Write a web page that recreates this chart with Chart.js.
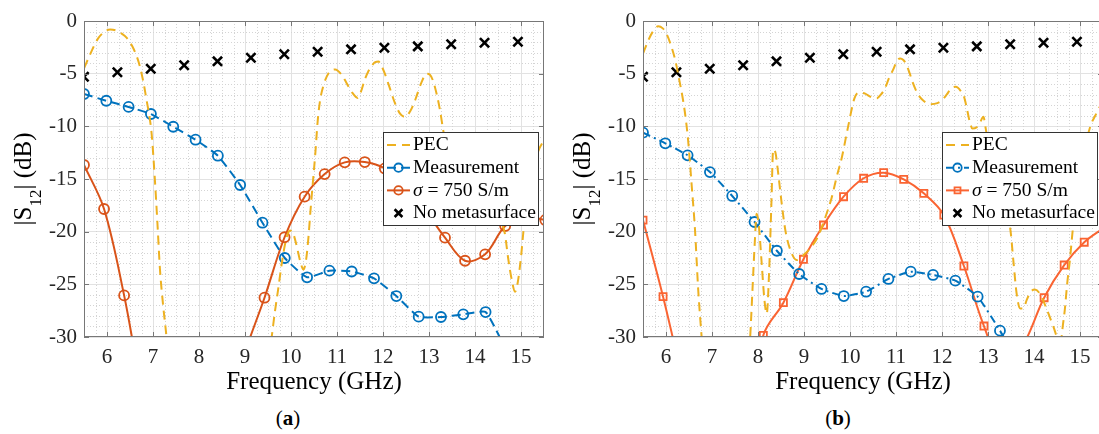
<!DOCTYPE html>
<html>
<head>
<meta charset="utf-8">
<script src="https://cdn.jsdelivr.net/npm/chart.js@4.4.1/dist/chart.umd.min.js"></script>
<style>
  body { margin: 0; width: 1099px; height: 434px; overflow: hidden; background: #fff; position: relative; font-family: 'Liberation Serif', serif; }
  .panel { position: absolute; top: 0; width: 560px; height: 400px; }
  #panelA { left: 0; }
  #panelB { left: 559px; }
  .cap { position: absolute; top: 406px; width: 60px; text-align: center; font-size: 21px; line-height: 24px; color: #000; }
</style>
</head>
<body>
<div class="panel" id="panelA"><canvas id="chartA"></canvas></div>
<div class="panel" id="panelB"><canvas id="chartB"></canvas></div>
<div class="cap" style="left:258px">(<b>a</b>)</div>
<div class="cap" style="left:808px">(<b>b</b>)</div>
<script>
// axis ticks
const xTicks = [6, 7, 8, 9, 10, 11, 12, 13, 14, 15];
const yTicks = [-30, -25, -20, -15, -10, -5, 0];

// frequencies (GHz) of the marked series
const measFreq = [5.5, 5.985, 6.47, 6.955, 7.44, 7.925, 8.41, 8.895, 9.38, 9.865, 10.35, 10.835, 11.32, 11.805, 12.29, 12.775, 13.26, 13.745, 14.23, 14.715];
const sigmaFreq = [5.5, 5.936, 6.372, 6.808, 7.244, 7.68, 8.116, 8.552, 8.988, 9.424, 9.86, 10.296, 10.732, 11.168, 11.604, 12.04, 12.476, 12.912, 13.348, 13.784, 14.22, 14.656, 15.092, 15.528];
const noMetaFreq = [5.5, 6.226, 6.951, 7.677, 8.402, 9.128, 9.854, 10.579, 11.305, 12.03, 12.756, 13.482, 14.207, 14.933];

// |S12| (dB)
const measA = [-6.93, -7.57, -8.16, -8.83, -10.04, -11.27, -12.79, -15.57, -19.15, -22.5, -24.33, -23.7, -23.78, -24.43, -26.11, -28.07, -28.1, -27.85, -27.63, -31.6];
const measB = [-10.6, -11.61, -12.75, -14.34, -16.61, -19.08, -21.81, -24.02, -25.44, -26.11, -25.7, -24.49, -23.8, -24.11, -24.65, -26.17, -29.4, -33];
const sigmaA = [-13.67, -17.85, -26.05, -36, -42, -45, -43, -38, -31.6, -26.27, -20.53, -16.68, -14.53, -13.42, -13.39, -14.0, -15.5, -17.9, -20.57, -22.76, -22.15, -19.46, -18.6, -18.9];
const sigmaB = [-18.9, -26.17, -34, -40, -43, -40, -29.84, -26.74, -22.62, -19.37, -16.68, -14.93, -14.4, -15.03, -16.36, -18.42, -23.26, -28.96, -33, -30.6, -26.27, -23.17, -21.0, -19.6];
const noMeta = [-5.29, -4.87, -4.53, -4.2, -3.83, -3.49, -3.16, -2.92, -2.69, -2.54, -2.41, -2.21, -2.06, -1.97];

// PEC simulation, [GHz, dB]
const pecA = [[5.5,-4.5],[5.65,-3.0],[5.8,-1.7],[5.95,-1.0],[6.07,-0.8],[6.2,-0.9],[6.32,-1.2],[6.43,-1.6],[6.55,-2.4],[6.65,-3.4],[6.72,-4.4],[6.8,-6.0],[6.86,-7.5],[6.92,-9.0],[6.97,-10.7],[7.04,-15.0],[7.1,-19.5],[7.15,-23.5],[7.22,-27],[7.3,-30.3],[7.4,-36],[7.7,-44],[8.5,-48],[9.2,-42],[9.45,-34],[9.58,-30],[9.65,-27.6],[9.72,-25.5],[9.8,-23.0],[9.87,-21.2],[9.93,-20.2],[9.98,-19.9],[10.05,-20.2],[10.12,-21.3],[10.2,-22.8],[10.27,-23.6],[10.33,-22.6],[10.38,-20.5],[10.42,-18.2],[10.47,-15.6],[10.53,-12.5],[10.58,-9.5],[10.63,-7.6],[10.7,-6.2],[10.81,-5.0],[10.96,-4.6],[11.1,-5.1],[11.21,-5.9],[11.33,-6.8],[11.45,-7.3],[11.53,-6.6],[11.6,-5.6],[11.68,-4.8],[11.75,-4.3],[11.83,-3.9],[11.9,-3.85],[11.97,-4.3],[12.04,-5.0],[12.15,-6.4],[12.26,-7.8],[12.37,-8.8],[12.48,-9.1],[12.6,-8.5],[12.7,-7.5],[12.83,-5.9],[12.95,-5.0],[13.02,-5.1],[13.09,-5.7],[13.17,-7.0],[13.24,-8.5],[13.31,-10.4],[13.4,-12.5],[13.55,-14.8],[13.8,-16.8],[14.1,-17.8],[14.4,-18.4],[14.55,-18.9],[14.65,-20.2],[14.72,-22.5],[14.8,-24.6],[14.87,-25.7],[14.93,-24.8],[15.0,-22.4],[15.07,-19.2],[15.15,-16.5],[15.25,-14.2],[15.38,-12.3],[15.5,-11.3]];
const pecB = [[5.5,-3.1],[5.6,-2.0],[5.7,-1.1],[5.83,-0.5],[5.93,-0.7],[6.01,-1.2],[6.1,-2.2],[6.2,-3.7],[6.28,-5.4],[6.37,-7.5],[6.43,-9.3],[6.48,-11.3],[6.56,-15.7],[6.63,-19.8],[6.7,-25.5],[6.78,-30.3],[6.9,-37],[7.3,-45],[7.65,-40],[7.78,-33],[7.83,-30],[7.88,-25.5],[7.93,-21],[7.97,-18.3],[8.02,-19.5],[8.08,-23],[8.14,-26.5],[8.19,-27.8],[8.24,-24],[8.29,-17.5],[8.33,-12.2],[8.38,-12.5],[8.44,-14.5],[8.52,-17.5],[8.6,-20],[8.7,-21.7],[8.84,-22.7],[9.02,-22.1],[9.17,-21.4],[9.31,-20.4],[9.45,-18.8],[9.6,-16.8],[9.71,-14.8],[9.82,-13.0],[9.96,-10.0],[10.1,-7.3],[10.2,-6.8],[10.33,-6.9],[10.45,-7.2],[10.58,-7.35],[10.67,-7.0],[10.76,-6.4],[10.85,-5.4],[10.94,-4.6],[11.02,-3.8],[11.09,-3.55],[11.16,-3.7],[11.22,-4.1],[11.3,-5.0],[11.36,-5.8],[11.47,-6.9],[11.58,-7.5],[11.75,-7.9],[11.9,-7.8],[11.98,-7.6],[12.1,-7.0],[12.2,-6.4],[12.3,-6.25],[12.4,-6.6],[12.48,-7.2],[12.55,-8.5],[12.6,-9.5],[12.66,-10.2],[12.75,-10.1],[12.83,-9.6],[12.9,-9.1],[12.95,-10.2],[13.05,-12.8],[13.2,-16],[13.35,-18.4],[13.48,-19.6],[13.55,-22.7],[13.62,-25.8],[13.7,-27.3],[13.77,-27.3],[13.84,-26.5],[13.93,-25.7],[14.02,-25.5],[14.13,-25.9],[14.28,-27.4],[14.42,-29.0],[14.53,-30.3],[14.58,-30.4],[14.63,-28.8],[14.67,-27.4],[14.72,-25],[14.78,-22.7],[14.85,-19.5],[15.0,-14.5],[15.15,-11.2],[15.25,-9.7],[15.33,-9.0],[15.45,-8.0],[15.55,-7.5]];

const FONT = "'Liberation Serif', 'Times New Roman', serif";

function xy(freq, vals) {
  return vals.map((v, i) => ({ x: freq[i], y: v }));
}
function pairs(list) {
  return list.map((p) => ({ x: p[0], y: p[1] }));
}

function marker(ctx, style, x, y, r) {
  ctx.beginPath();
  if (style === 'circle') {
    ctx.arc(x, y, r, 0, Math.PI * 2);
  } else if (style === 'rect') {
    const s = r * Math.SQRT1_2;
    ctx.rect(x - s, y - s, 2 * s, 2 * s);
  } else if (style === 'crossRot') {
    const s = r * Math.SQRT1_2;
    ctx.moveTo(x - s, y - s); ctx.lineTo(x + s, y + s);
    ctx.moveTo(x + s, y - s); ctx.lineTo(x - s, y + s);
  }
  ctx.stroke();
}

// dotted minor grid under the curves
const minorGrid = {
  id: 'minorGrid',
  beforeDatasetsDraw(chart) {
    const { ctx, chartArea: a, scales: { x, y } } = chart;
    ctx.save();
    ctx.strokeStyle = '#d4d4d4';
    ctx.lineWidth = 1;
    ctx.setLineDash([1, 2]);
    ctx.beginPath();
    for (let v = 5.75; v < 15.5; v += 0.25) {
      if (Math.abs(v - Math.round(v)) < 1e-6) continue;
      const px = Math.round(x.getPixelForValue(v)) + 0.5;
      ctx.moveTo(px, a.top); ctx.lineTo(px, a.bottom);
    }
    for (let v = -29; v < 0; v += 1) {
      if (v % 5 === 0) continue;
      const py = Math.round(y.getPixelForValue(v)) + 0.5;
      ctx.moveTo(a.left, py); ctx.lineTo(a.right, py);
    }
    ctx.stroke();
    ctx.restore();
  },
};

// box, inward ticks, legend and axis titles
const decor = {
  id: 'decor',
  afterDatasetsDraw(chart, args, opts) {
    const { ctx, chartArea: a, scales: { x, y } } = chart;
    ctx.save();
    ctx.strokeStyle = '#777';
    ctx.lineWidth = 1;
    ctx.strokeRect(a.left + 0.5, a.top + 0.5, a.right - a.left - 1, a.bottom - a.top - 1);
    ctx.beginPath();
    xTicks.forEach((v) => {
      const px = Math.round(x.getPixelForValue(v)) + 0.5;
      ctx.moveTo(px, a.bottom); ctx.lineTo(px, a.bottom - 5);
      ctx.moveTo(px, a.top); ctx.lineTo(px, a.top + 5);
    });
    yTicks.forEach((v) => {
      const py = Math.round(y.getPixelForValue(v)) + 0.5;
      ctx.moveTo(a.left, py); ctx.lineTo(a.left + 5, py);
      ctx.moveTo(a.right, py); ctx.lineTo(a.right - 5, py);
    });
    ctx.stroke();

    // legend
    const lx = 383.5, ly = 132.5, lw = 155, lh = 93;
    ctx.fillStyle = '#fff';
    ctx.fillRect(lx, ly, lw, lh);
    ctx.strokeStyle = '#333';
    ctx.strokeRect(lx, ly, lw, lh);
    ctx.textBaseline = 'middle';
    chart.data.datasets.forEach((ds, i) => {
      const ry = 145 + i * 22.7;
      ctx.strokeStyle = ds.borderColor;
      if (ds.showLine !== false) {
        ctx.lineWidth = ds.borderWidth;
        ctx.setLineDash(ds.borderDash || []);
        ctx.beginPath(); ctx.moveTo(387, ry); ctx.lineTo(410, ry); ctx.stroke();
      }
      ctx.setLineDash([]);
      if (ds.pointRadius > 0) {
        ctx.lineWidth = ds.pointBorderWidth;
        marker(ctx, ds.pointStyle, 398.5, ry, ds.pointStyle === 'crossRot' ? 5.5 : 4.2);
      }
      ctx.fillStyle = '#000';
      let tx = 413;
      let text = ds.label;
      if (text.startsWith('σ')) {
        ctx.font = `italic 19.5px ${FONT}`;
        ctx.fillText('σ', tx, ry);
        tx += ctx.measureText('σ').width;
        text = text.slice(1);
      }
      ctx.font = `19.5px ${FONT}`;
      ctx.fillText(text, tx, ry);
    });
    ctx.restore();
  },
  afterDraw(chart, args, opts) {
    const { ctx, chartArea: a } = chart;
    ctx.save();
    ctx.fillStyle = '#000';
    // x title
    ctx.font = `25px ${FONT}`;
    ctx.textAlign = 'center';
    ctx.textBaseline = 'alphabetic';
    ctx.fillText('Frequency (GHz)', opts.xTitleX, 389);
    // y title with subscript
    ctx.translate(31, (a.top + a.bottom) / 2);
    ctx.rotate(-Math.PI / 2);
    ctx.textAlign = 'left';
    const big = `25px ${FONT}`, small = `17px ${FONT}`;
    ctx.font = big; const w1 = ctx.measureText('|S').width; const w3 = ctx.measureText('| (dB)').width;
    ctx.font = small; const w2 = ctx.measureText('12').width;
    let px = -(w1 + w2 + w3) / 2;
    ctx.font = big; ctx.fillText('|S', px, 0); px += w1;
    ctx.font = small; ctx.fillText('12', px, 10); px += w2;
    ctx.font = big; ctx.fillText('| (dB)', px, 0);
    ctx.restore();
  },
};

function makeChart(id, datasets, xTitleX) {
  return new Chart(document.getElementById(id), {
    type: 'line',
    data: { datasets },
    options: {
      responsive: true,
      maintainAspectRatio: false,
      animation: false,
      events: [],
      layout: { padding: { top: 21, right: 16, left: 0, bottom: 0 } },
      plugins: { legend: { display: false }, tooltip: { enabled: false }, decor: { xTitleX } },
      scales: {
        x: {
          type: 'linear', min: 5.5, max: 15.5,
          afterBuildTicks: (s) => { s.ticks = xTicks.map((v) => ({ value: v })); },
          afterFit: (s) => { s.height = 63; },
          grid: { color: '#e2e2e2', drawTicks: false },
          border: { display: false },
          ticks: { font: { family: FONT, size: 21 }, color: '#262626', padding: 8, maxRotation: 0, autoSkip: false, callback: (v) => String(v) },
        },
        y: {
          min: -30, max: 0,
          afterBuildTicks: (s) => { s.ticks = yTicks.map((v) => ({ value: v })); },
          afterFit: (s) => { s.width = 84; },
          grid: { color: '#e2e2e2', drawTicks: false },
          border: { display: false },
          ticks: { font: { family: FONT, size: 21 }, color: '#262626', padding: 7, callback: (v) => String(v) },
        },
      },
    },
    plugins: [minorGrid, decor],
  });
}

function pecSet(data) {
  return { label: 'PEC', data, borderColor: '#EDB120', borderWidth: 2, borderDash: [9, 6], pointRadius: 0, cubicInterpolationMode: 'monotone', fill: false };
}
function measSet(data, dash) {
  return { label: 'Measurement', data, borderColor: '#0072BD', borderWidth: 2, borderDash: dash, pointStyle: 'circle', pointRadius: 5, pointBorderWidth: 1.8, pointBackgroundColor: 'rgba(0,0,0,0)', tension: 0.15, fill: false };
}
function sigmaSet(data, color, style) {
  return { label: 'σ = 750 S/m', data, borderColor: color, borderWidth: 2, pointStyle: style, pointRadius: 5, pointBorderWidth: 1.8, pointBackgroundColor: 'rgba(0,0,0,0)', tension: 0.35, fill: false };
}
function noMetaSet() {
  return { label: 'No metasurface', data: xy(noMetaFreq, noMeta), showLine: false, borderColor: '#000', pointStyle: 'crossRot', pointRadius: 6.5, pointBorderWidth: 2.6, fill: false };
}

function drawAll() {
  makeChart('chartA', [
    pecSet(pairs(pecA)),
    measSet(xy(measFreq, measA), [9, 5]),
    sigmaSet(xy(sigmaFreq, sigmaA), '#D95319', 'circle'),
    noMetaSet(),
  ], 314);

  makeChart('chartB', [
    pecSet(pairs(pecB)),
    measSet(xy(measFreq, measB), [8, 4, 2, 4]),
    sigmaSet(xy(sigmaFreq, sigmaB), '#FA6432', 'rect'),
    noMetaSet(),
  ], 304);
}

document.fonts.load("21px 'Liberation Serif'").then(drawAll, drawAll);
</script>
</body>
</html>
